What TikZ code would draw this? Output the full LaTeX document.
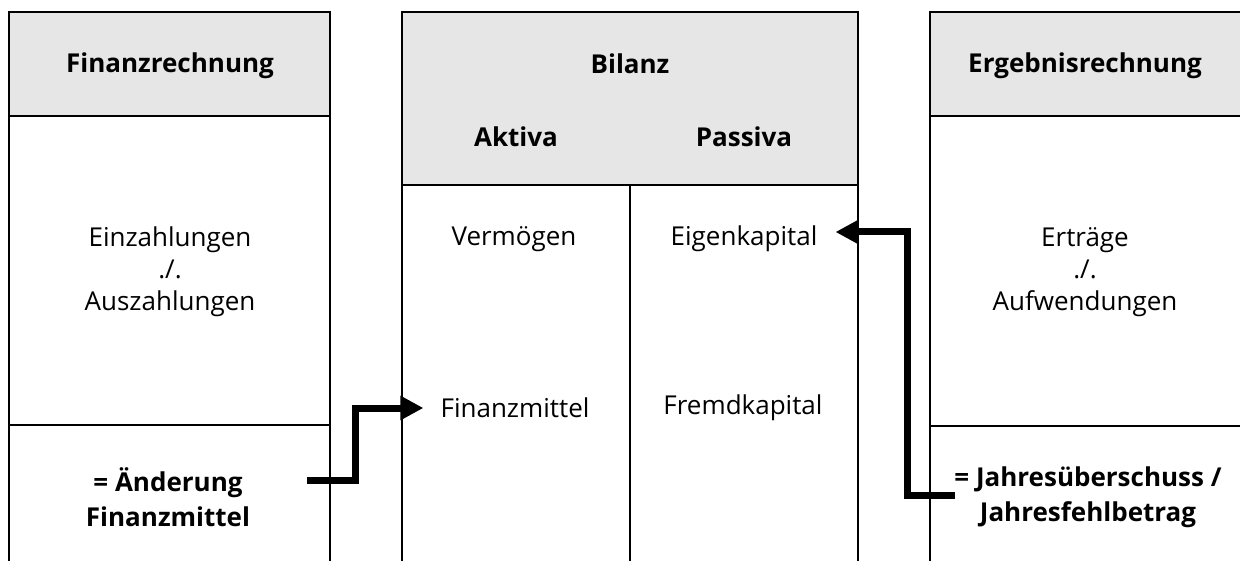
\documentclass[tikz,border=0pt]{standalone}
\usepackage{fontspec}
\setmainfont{Open Sans}
\usetikzlibrary{arrows.meta}
\definecolor{hdr}{HTML}{E6E6E6}
\tikzset{
  outer/.style={line width=2.5pt},
  inner/.style={line width=2pt},
  txt/.style={font=\fontsize{26}{32}\selectfont, align=center, inner sep=0pt},
  btxt/.style={txt, font=\fontsize{26}{35}\selectfont\bfseries},
  flow/.style={line width=7pt, line join=miter, -{Triangle[length=23pt,width=23pt]}}
}
\begin{document}
\begin{tikzpicture}[x=1pt,y=-1pt]
\useasboundingbox (0,0) rectangle (1240,561);
% left box
\fill[hdr] (9,12) rectangle (330,116);
\draw[outer] (9,561) -- (9,12) -- (330,12) -- (330,561);
\draw[outer] (9,116) -- (330,116);
\draw[inner] (9,425) -- (330,425);
% middle box
\fill[hdr] (402,12) rectangle (858,185);
\draw[outer] (402,561) -- (402,12) -- (858,12) -- (858,561);
\draw[outer] (402,185) -- (858,185);
\draw[inner] (630,185) -- (630,561);
% right box
\fill[hdr] (930,12) rectangle (1241,116);
\draw[outer] (930,561) -- (930,12) -- (1241,12);
\draw[outer] (930,116) -- (1241,116);
\draw[inner] (930,426) -- (1241,426);
% texts
\node[btxt] (fr) at (170,66) {Finanzrechnung};
\node[txt] (ez) at (170,272) {Einzahlungen\\./.\\Auszahlungen};
\node[btxt] (af) at (168,497) {= Änderung\\Finanzmittel};
\node[btxt] (bil) at (630,64) {Bilanz};
\node[btxt] (akt) at (516,137) {Aktiva};
\node[btxt] (pas) at (744,137) {Passiva};
\node[txt] (verm) at (514,239) {Vermögen};
\node[txt] (ek) at (744,239) {Eigenkapital};
\node[txt] (fm) at (515,408) {Finanzmittel};
\node[txt] (fk) at (743,408) {Fremdkapital};
\node[btxt] (er) at (1085,66) {Ergebnisrechnung};
\node[txt] (ea) at (1085,272) {Erträge\\./.\\Aufwendungen};
\node[btxt] (js) at (1088,497) {= Jahresüberschuss /\\Jahresfehlbetrag};
% connectors
\coordinate (a1) at (307,480);
\coordinate (a2) at (955,495);
\draw[flow] (a1) -- (355,480) -- (355,408) -- ([xshift=-17pt]fm.west);
\draw[flow] (a2) -- (907,495) -- (907,232) -- ([xshift=18pt,yshift=7pt]ek.east);
\end{tikzpicture}
\end{document}
